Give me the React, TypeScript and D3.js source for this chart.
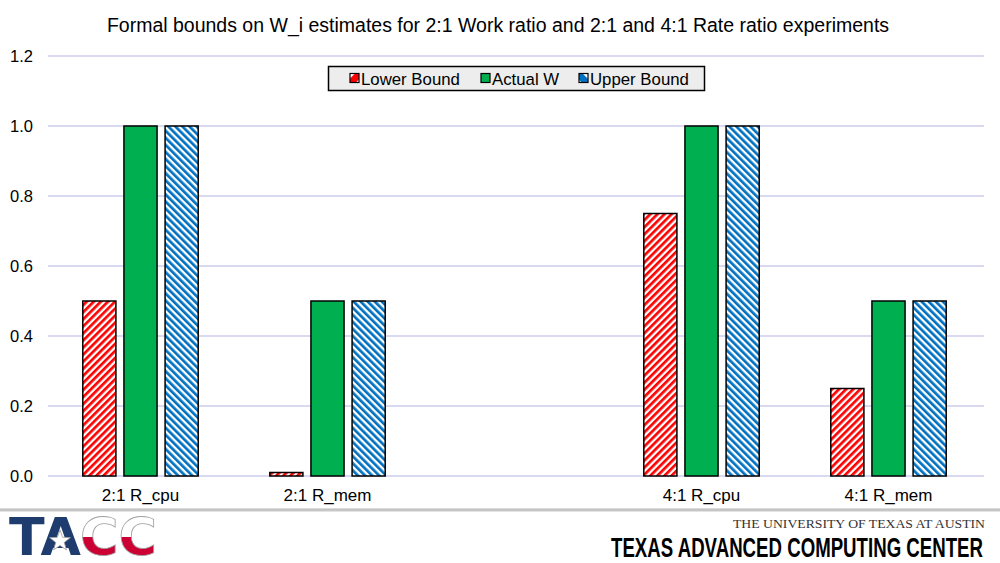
import React from "react";
import * as d3 from "d3";

const categories = ["2:1 R_cpu", "2:1 R_mem", "", "4:1 R_cpu", "4:1 R_mem"];
const lowerBound = [0.5, 0.01, NaN, 0.75, 0.25];
const actualW = [1.0, 0.5, NaN, 1.0, 0.5];
const upperBound = [1.0, 0.5, NaN, 1.0, 0.5];
const seriesNames = ["Lower Bound", "Actual W", "Upper Bound"];
const yTicks = [0, 0.2, 0.4, 0.6, 0.8, 1.0, 1.2];
const title = "Formal bounds on W_i estimates for 2:1 Work ratio and 2:1 and 4:1 Rate ratio experiments";

const W = 1000;
const H = 563;
const plot = { left: 47, right: 982, top: 56, bottom: 476 };

export default function App() {
  const x = d3.scaleBand<string>().domain(categories.map((c, i) => String(i))).range([plot.left, plot.right]).paddingInner(0).paddingOuter(0);
  const y = d3.scaleLinear().domain([0, 1.2]).range([plot.bottom, plot.top]);
  const inner = d3.scaleBand<string>().domain(["0", "1", "2"]).range([0, x.bandwidth()]).paddingInner(0.195).paddingOuter(0.87);
  const series = [lowerBound, actualW, upperBound];
  const fills = ["url(#hatchRed)", "#00b050", "url(#hatchBlue)"];
  const font = "Liberation Sans, Arial, sans-serif";

  const star = (cx: number, cy: number, R: number, r: number) => {
    const pts: string[] = [];
    for (let k = 0; k < 10; k++) {
      const a = -Math.PI / 2 + (k * Math.PI) / 5;
      const rad = k % 2 === 0 ? R : r;
      pts.push(`${cx + rad * Math.cos(a)},${cy + rad * Math.sin(a)}`);
    }
    return pts.join(" ");
  };

  const legendItems = [
    { x: 350, text: seriesNames[0], fill: "url(#hatchRedSmall)" },
    { x: 481, text: seriesNames[1], fill: "#00b050" },
    { x: 579, text: seriesNames[2], fill: "url(#hatchBlueSmall)" },
  ];

  return (
    <svg width={W} height={H} style={{ position: "absolute", left: 0, top: 0, background: "#fff" }} fontFamily={font}>
      <defs>
        <pattern id="hatchRed" patternUnits="userSpaceOnUse" width={5} height={5} patternTransform="rotate(45)">
          <rect width={5} height={5} fill="#ffffff" />
          <rect width={2.7} height={5} fill="#ff0000" />
        </pattern>
        <pattern id="hatchBlue" patternUnits="userSpaceOnUse" width={5} height={5} patternTransform="rotate(-45)">
          <rect width={5} height={5} fill="#ffffff" />
          <rect width={2.7} height={5} fill="#0070c0" />
        </pattern>
        <pattern id="hatchRedSmall" patternUnits="userSpaceOnUse" width={10} height={10} patternTransform="rotate(45)">
          <rect width={10} height={10} fill="#ff0000" />
          <rect width={3} height={10} fill="#ffffff" />
        </pattern>
        <pattern id="hatchBlueSmall" patternUnits="userSpaceOnUse" width={10} height={10} patternTransform="rotate(-45)">
          <rect width={10} height={10} fill="#0070c0" />
          <rect width={3} height={10} fill="#ffffff" />
        </pattern>
        <linearGradient id="ccGrad" x1="0" y1="0" x2="0" y2="1">
          <stop offset="0.5" stopColor="#ffffff" />
          <stop offset="0.5" stopColor="#cc0033" />
        </linearGradient>
        <linearGradient id="sepGrad" x1="0" y1="0" x2="0" y2="1">
          <stop offset="0" stopColor="#e6e6e6" />
          <stop offset="0.5" stopColor="#b8b8b8" />
          <stop offset="1" stopColor="#f2f2f2" />
        </linearGradient>
      </defs>

      <text x={498} y={32} textAnchor="middle" fontSize={19.5} fill="#000">{title}</text>

      {yTicks.map((t) => (
        <g key={t}>
          <line x1={plot.left + 1} x2={plot.right + 2} y1={y(t)} y2={y(t)} stroke="#d9d9f2" strokeWidth={2} />
          <text x={33} y={y(t) + 6} textAnchor="end" fontSize={16.5} fill="#000">{t.toFixed(1)}</text>
        </g>
      ))}

      {categories.map((c, i) => (
        <g key={i} transform={`translate(${x(String(i))},0)`}>
          {series.map((s, j) =>
            isNaN(s[i]) ? null : (
              <rect
                key={j}
                x={inner(String(j))}
                width={inner.bandwidth()}
                y={y(s[i])}
                height={y(0) - y(s[i])}
                fill={fills[j]}
                stroke="#000"
                strokeWidth={1.5}
              />
            )
          )}
          <text x={x.bandwidth() / 2} y={501} textAnchor="middle" fontSize={17} fill="#000">{c}</text>
        </g>
      ))}

      <rect x={328.5} y={66.5} width={376} height={24} fill="#ededed" stroke="#000" strokeWidth={1.5} />
      {legendItems.map((it) => (
        <g key={it.text}>
          <rect x={it.x} y={73.5} width={9} height={9} fill={it.fill} stroke="#000" strokeWidth={1.2} />
          <text x={it.x + 11} y={84.5} fontSize={16.8} fill="#000">{it.text}</text>
        </g>
      ))}

      <rect x={0} y={508} width={W} height={4} fill="url(#sepGrad)" />

      <g>
        <text x={9} y={555} fontFamily="DejaVu Sans" fontWeight="bold" fontSize={51} fill="#1f3c6e" textLength={72} lengthAdjust="spacingAndGlyphs">TA</text>
        <polygon points={star(60, 541, 11, 4.5)} fill="#ffffff" stroke="#9a9a9a" strokeWidth={0.8} />
        <text x={80} y={555} fontFamily="DejaVu Sans" fontWeight="bold" fontSize={51} fill="url(#ccGrad)" stroke="#a0a0a0" strokeWidth={0.8} textLength={77} lengthAdjust="spacingAndGlyphs">CC</text>
      </g>

      <text x={985} y={528} textAnchor="end" fontFamily="Liberation Serif, serif" fontSize={12.5} fill="#333" textLength={252} lengthAdjust="spacingAndGlyphs">THE UNIVERSITY OF TEXAS AT AUSTIN</text>
      <text x={983} y={557} textAnchor="end" fontFamily="Liberation Sans Narrow, Liberation Sans, sans-serif" fontWeight="bold" fontSize={27} fill="#000" textLength={372} lengthAdjust="spacingAndGlyphs">TEXAS ADVANCED COMPUTING CENTER</text>
    </svg>
  );
}
